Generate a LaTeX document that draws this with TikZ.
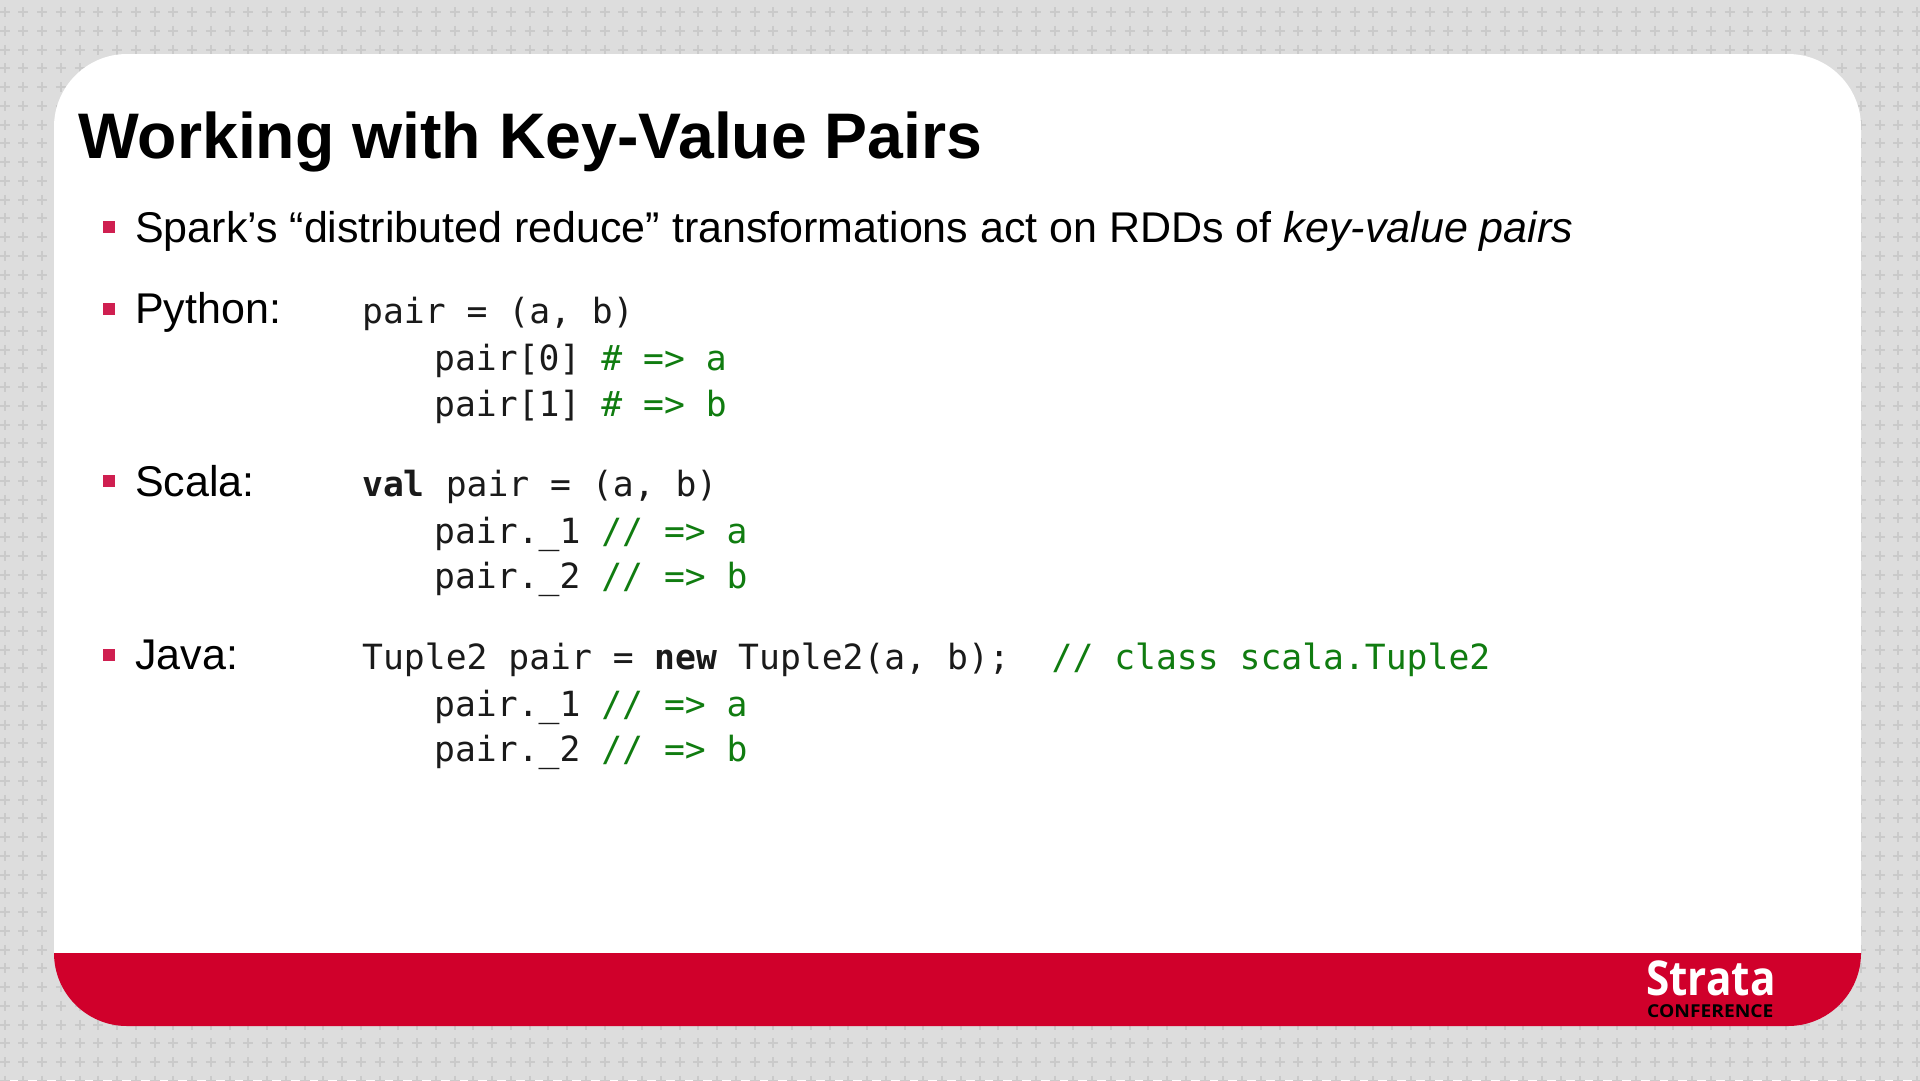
\documentclass[tikz,border=0pt]{standalone}
\usepackage{fontspec}
\setmainfont{Liberation Sans}
\setmonofont{DejaVu Sans Mono}
\newfontfamily\logofont{Open Sans}
\definecolor{bgc}{HTML}{DDDDDD}
\definecolor{plusc}{HTML}{CACACA}
\definecolor{redc}{HTML}{D0002B}
\definecolor{bulc}{HTML}{CF1F50}
\definecolor{cmtc}{HTML}{107C10}
\definecolor{codec}{HTML}{1A1A1A}
\newcommand{\mono}{\fontsize{34.7}{40}\selectfont\ttfamily}
\tikzset{
 body/.style={anchor=base west,inner sep=0pt,font=\fontsize{43}{48}\selectfont,text=black},
 code/.style={anchor=base west,inner sep=0pt,font=\mono,text=codec},
 bulletmark/.style={fill=bulc,draw=none,minimum size=12.5pt,inner sep=0pt}
}
\begin{document}
\begin{tikzpicture}[x=1pt,y=-1pt]
\useasboundingbox (0,0) rectangle (1920,1080);
\fill[bgc] (0,0) rectangle (1920,1080);
\foreach \i in {0,...,102}{
 \foreach \j in {0,...,57}{
  \draw[plusc,line width=2pt] ({4.5+18.75*\i-5},{12+18.75*\j}) -- ++(10,0) ({4.5+18.75*\i},{12+18.75*\j-5}) -- ++(0,10);
 }}
\fill[white] (54,954) -- (54,127) .. controls (54,86.7) and (86.7,54) .. (127,54) -- (1788,54) .. controls (1828.3,54) and (1861,86.7) .. (1861,127) -- (1861,954) -- cycle;
\fill[redc] (54,953) -- (1861,953) .. controls (1861,993.3) and (1828.3,1026) .. (1788,1026) -- (127,1026) .. controls (86.7,1026) and (54,993.3) .. (54,953) -- cycle;
\node[anchor=base west,inner sep=0pt,font=\fontsize{64.4}{70}\selectfont\bfseries] (title) at (78,158) {Working with Key-Value Pairs};
\node[bulletmark] (b1) at (109,227) {};
\node[body] (t1) at (135,242) {Spark’s “distributed reduce” transformations act on RDDs of \textit{key-value pairs}};
\node[bulletmark] (b2) at (109,309) {};
\node[body] (t2) at (135,323) {Python:};
\node[code] (p0) at (362,323) {pair = (a, b)};
\node[code] (p1) at (434,370) {pair[0] \textcolor{cmtc}{\# => a}};
\node[code] (p2) at (434,416) {pair[1] \textcolor{cmtc}{\# => b}};
\node[bulletmark] (b3) at (109,481) {};
\node[body] (t3) at (135,496) {Scala:};
\node[code] (s0) at (362,496) {\textbf{val} pair = (a, b)};
\node[code] (s1) at (434,543) {pair.\_1 \textcolor{cmtc}{// => a}};
\node[code] (s2) at (434,588) {pair.\_2 \textcolor{cmtc}{// => b}};
\node[bulletmark] (b4) at (109,655) {};
\node[body] (t4) at (135,669) {Java:};
\node[code] (j0) at (362,669) {Tuple2 pair = \textbf{new} Tuple2(a, b);\ \ \textcolor{cmtc}{// class scala.Tuple2}};
\node[code] (j1) at (434,716) {pair.\_1 \textcolor{cmtc}{// => a}};
\node[code] (j2) at (434,761) {pair.\_2 \textcolor{cmtc}{// => b}};
\node[anchor=base west,inner sep=0pt,text=white,font=\fontsize{48}{50}\selectfont\logofont\bfseries] (logo) at (1646,995) {\scalebox{0.88}[1]{Strata}};
\node[anchor=base west,inner sep=0pt,text=black,font=\fontsize{17.8}{20}\selectfont\logofont\bfseries] (conf) at (1647,1017) {\scalebox{1.08}[1]{CONFERENCE}};
\end{tikzpicture}
\end{document}
